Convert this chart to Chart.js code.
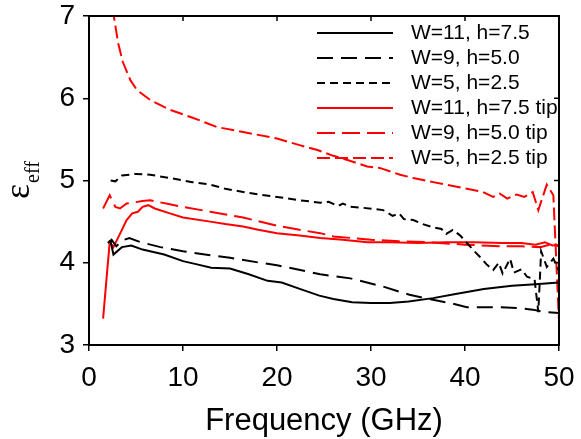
<!DOCTYPE html>
<html lang="en">
<head>
<meta charset="UTF-8">
<title>Effective permittivity vs frequency</title>
<script src="https://cdn.jsdelivr.net/npm/chart.js"></script>
<style>
  html, body { margin: 0; padding: 0; background: #ffffff; }
</style>
</head>
<body>
<canvas id="epsChart" width="581" height="439"></canvas>

<script>
// values (frequency in GHz, effective permittivity)
const freqA = [2.3, 2.6, 3.5, 4.5, 5.7, 8.0, 10.0, 11.5, 13.0, 15.0, 17.0, 19.0, 20.5, 22.5, 24.5, 26.0, 28.0, 30.0, 32.0, 34.0, 36.6, 39.0, 42.0, 45.0, 47.5, 50.0];
const epsA  = [4.26, 4.10, 4.19, 4.21, 4.16, 4.10, 4.02, 3.98, 3.94, 3.93, 3.86, 3.78, 3.76, 3.68, 3.60, 3.56, 3.52, 3.51, 3.51, 3.53, 3.57, 3.62, 3.68, 3.72, 3.74, 3.76];

const freqB = [2.0, 2.4, 2.9, 3.5, 4.3, 5.5, 7.6, 10.0, 12.9, 15.0, 18.2, 20.0, 21.7, 24.6, 27.8, 31.3, 34.1, 36.6, 38.4, 40.2, 43.7, 45.5, 47.2, 48.5, 50.0];
const epsB  = [4.24, 4.28, 4.20, 4.27, 4.30, 4.25, 4.19, 4.14, 4.09, 4.06, 4.00, 3.97, 3.93, 3.86, 3.81, 3.71, 3.61, 3.55, 3.51, 3.46, 3.46, 3.45, 3.43, 3.40, 3.39];

const freqC = [2.3, 2.8, 3.5, 5.0, 6.5, 8.6, 11.0, 12.9, 14.5, 16.4, 18.0, 20.0, 22.4, 24.6, 25.5, 26.5, 27.0, 27.8, 29.0, 31.3, 32.3, 33.0, 33.5, 34.5, 35.5, 36.6, 37.5, 38.0, 38.7, 39.5, 40.2, 41.0, 41.6, 42.3, 43.0, 43.6, 44.0, 44.8, 45.2, 46.0, 46.6, 47.4, 47.8, 48.1, 48.7, 49.4, 50.0];
const epsC  = [5.00, 4.99, 5.06, 5.08, 5.07, 5.03, 4.98, 4.95, 4.90, 4.86, 4.83, 4.80, 4.76, 4.73, 4.74, 4.69, 4.72, 4.68, 4.67, 4.64, 4.57, 4.60, 4.53, 4.52, 4.47, 4.43, 4.41, 4.35, 4.40, 4.33, 4.24, 4.14, 4.07, 3.98, 3.91, 4.00, 3.87, 4.05, 3.88, 3.92, 3.83, 3.80, 3.40, 4.14, 3.95, 4.05, 3.90];

const freqD = [1.5, 2.2, 2.6, 3.5, 4.0, 4.6, 5.2, 5.7, 6.3, 7.0, 8.6, 10.0, 12.9, 14.5, 16.4, 18.0, 20.0, 22.4, 24.6, 27.0, 29.6, 32.0, 35.0, 38.0, 41.0, 44.0, 46.0, 47.5, 48.5, 49.3, 50.0];
const epsD  = [3.32, 4.25, 4.19, 4.40, 4.52, 4.60, 4.62, 4.68, 4.70, 4.66, 4.60, 4.55, 4.50, 4.47, 4.44, 4.40, 4.36, 4.33, 4.30, 4.28, 4.25, 4.25, 4.24, 4.25, 4.25, 4.24, 4.24, 4.22, 4.25, 4.21, 4.22];

const freqE = [1.5, 2.2, 2.8, 3.3, 4.0, 5.7, 6.5, 8.6, 10.0, 12.9, 16.4, 20.0, 22.4, 24.6, 26.0, 28.0, 30.0, 33.0, 36.0, 40.0, 43.7, 46.0, 48.0, 49.0, 50.0];
const epsE  = [4.66, 4.82, 4.68, 4.66, 4.72, 4.75, 4.76, 4.71, 4.68, 4.62, 4.55, 4.45, 4.40, 4.36, 4.32, 4.30, 4.28, 4.26, 4.25, 4.22, 4.20, 4.20, 4.19, 4.22, 4.20];

const freqF = [2.5, 3.1, 3.6, 4.4, 5.1, 6.5, 8.6, 11.1, 13.6, 16.4, 20.0, 22.4, 24.3, 26.0, 27.5, 29.6, 31.0, 33.1, 34.5, 36.6, 38.0, 40.2, 41.9, 43.0, 43.7, 44.5, 45.5, 46.3, 47.2, 47.8, 48.7, 49.4, 50.0];
const epsF  = [7.10, 6.67, 6.44, 6.22, 6.10, 5.98, 5.86, 5.76, 5.65, 5.59, 5.51, 5.43, 5.37, 5.30, 5.25, 5.17, 5.15, 5.07, 5.03, 4.98, 4.95, 4.90, 4.86, 4.80, 4.84, 4.78, 4.83, 4.80, 4.86, 4.64, 4.95, 4.82, 3.28];

const seriesNames = ['W=11, h=7.5', 'W=9, h=5.0', 'W=5, h=2.5', 'W=11, h=7.5 tip', 'W=9, h=5.0 tip', 'W=5, h=2.5 tip'];
const xTicks = [0, 10, 20, 30, 40, 50];
const yTicks = [3, 4, 5, 6, 7];

const SANS = '"Liberation Sans", Arial, sans-serif';
const SERIF = '"Liberation Serif", "Times New Roman", serif';

function pts(xs, ys) {
  return xs.map((x, i) => ({ x: x, y: ys[i] }));
}

function line(label, data, color, dash) {
  return { label: label, data: data, borderColor: color, backgroundColor: color,
           borderWidth: 2, borderDash: dash, pointRadius: 0, tension: 0, fill: false };
}

// legend inside the plot, top right, no box
const innerLegend = {
  id: 'innerLegend',
  afterDatasetsDraw(chart) {
    const ctx = chart.ctx;
    const area = chart.chartArea;
    ctx.save();
    ctx.font = '21px ' + SANS;
    ctx.textBaseline = 'middle';
    chart.data.datasets.forEach((ds, i) => {
      const y = area.top + 17 + i * 25;
      ctx.beginPath();
      ctx.setLineDash(ds.borderDash || []);
      ctx.strokeStyle = ds.borderColor;
      ctx.lineWidth = 2;
      ctx.moveTo(area.left + 228, y);
      ctx.lineTo(area.left + 304, y);
      ctx.stroke();
      ctx.setLineDash([]);
      ctx.fillStyle = '#000';
      ctx.fillText(ds.label, area.left + 322, y);
    });
    ctx.restore();
  }
};

// top/right frame with inward ticks, and the y title with subscript
const frame = {
  id: 'frame',
  afterDraw(chart) {
    const ctx = chart.ctx;
    const a = chart.chartArea;
    const xs = chart.scales.x, ys = chart.scales.y;
    ctx.save();
    ctx.strokeStyle = '#000';
    ctx.lineWidth = 2;
    ctx.beginPath();
    ctx.moveTo(a.left - 1, a.top);
    ctx.lineTo(a.right, a.top);
    ctx.lineTo(a.right, a.bottom + 1);
    ctx.stroke();
    ctx.lineWidth = 1.5;
    ctx.beginPath();
    xTicks.forEach(v => {
      const px = xs.getPixelForValue(v);
      ctx.moveTo(px, a.top);
      ctx.lineTo(px, a.top + 5);
    });
    yTicks.forEach(v => {
      const py = ys.getPixelForValue(v);
      ctx.moveTo(a.right, py);
      ctx.lineTo(a.right - 5, py);
    });
    ctx.stroke();

    ctx.translate(29, 199);
    ctx.rotate(-Math.PI / 2);
    ctx.fillStyle = '#000';
    ctx.textBaseline = 'alphabetic';
    ctx.font = '36px ' + SERIF;
    ctx.fillText('ε', 0, 0);
    const w = ctx.measureText('ε').width;
    ctx.font = '20px ' + SERIF;
    ctx.fillText('eff', w + 1, 10);
    ctx.restore();
  }
};

const ctx = document.getElementById('epsChart').getContext('2d');
new Chart(ctx, {
  type: 'line',
  data: {
    datasets: [
      line(seriesNames[0], pts(freqA, epsA), '#000000', []),
      line(seriesNames[1], pts(freqB, epsB), '#000000', [16, 8]),
      line(seriesNames[2], pts(freqC, epsC), '#000000', [8, 5]),
      line(seriesNames[3], pts(freqD, epsD), '#ff0000', []),
      line(seriesNames[4], pts(freqE, epsE), '#ff0000', [18, 7]),
      line(seriesNames[5], pts(freqF, epsF), '#ff0000', [13, 5])
    ]
  },
  options: {
    responsive: false,
    animation: false,
    layout: { padding: { left: 49, right: 22, top: 0, bottom: 0 } },
    plugins: { legend: { display: false }, tooltip: { enabled: false } },
    scales: {
      x: {
        type: 'linear', min: 0, max: 50,
        afterBuildTicks: s => { s.ticks = xTicks.map(v => ({ value: v })); },
        afterFit: s => { s.height = 94; s.paddingLeft = 0; s.paddingRight = 0; },
        ticks: { color: '#000', font: { family: SANS, size: 28 }, padding: 10, maxRotation: 0 },
        grid: { drawOnChartArea: false, color: '#000', lineWidth: 1.5, tickLength: 6 },
        border: { color: '#000', width: 2 },
        title: { display: true, text: 'Frequency (GHz)', color: '#000',
                 font: { family: SANS, size: 31, lineHeight: 1.13 }, padding: { top: 0, bottom: 0 } }
      },
      y: {
        type: 'linear', min: 3, max: 7,
        afterBuildTicks: s => { s.ticks = yTicks.map(v => ({ value: v })); },
        afterFit: s => { s.width = 40; s.paddingTop = 16; s.paddingBottom = 0; },
        ticks: { color: '#000', font: { family: SANS, size: 28 }, padding: 8 },
        grid: { drawOnChartArea: false, color: '#000', lineWidth: 1.5, tickLength: 6 },
        border: { color: '#000', width: 2 }
      }
    }
  },
  plugins: [innerLegend, frame]
});
</script>
</body>
</html>
